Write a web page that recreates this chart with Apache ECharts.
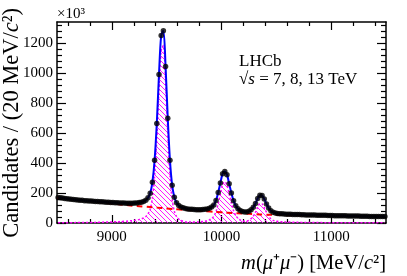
<!DOCTYPE html>
<html><head><meta charset="utf-8">
<script src="https://cdn.jsdelivr.net/npm/echarts@6/dist/echarts.min.js"></script>
<style>html,body{margin:0;padding:0;background:#fff}#c{width:407px;height:276px}</style>
</head><body><div id="c"></div>
<script>
// Histogram binning (MeV/c^2)
const binStart = 8500, binWidth = 20, nBins = 150;
// Candidates per bin (x10^3)
const candidates = [
 170,168,166,164,162,160,158,157,155,153,
 152,151,149,148,147,146,145,144,143,142,
 141,140,139,138,137,136,135,135,134,133,
 133,132,132,132,132,133,134,136,139,144,
 152,168,198,272,418,664,990,1250,1282,1044,
 698,418,252,172,135,117,107,101,97,94,
 92,91,90,89,89,89,90,91,94,98,
 106,120,150,204,267,329,344,322,262,200,
 148,115,95,83,77,74,74,78,88,105,
 130,163,185,183,160,127,100,82,72,67,
 64,62,61,60,59,58,58,57,57,56,
 56,55,55,54,54,53,53,53,52,52,
 52,51,51,50,50,50,49,49,49,48,
 48,48,47,47,47,46,46,46,45,45,
 45,45,44,44,44,44,43,43,43,43];
// Signal (Upsilon 1S,2S,3S) fit component per bin
const signalFit = [
 2,2,2,2,2,2,2,2,3,3,
 3,3,3,3,4,4,4,4,5,5,
 5,6,6,6,7,7,8,8,9,10,
 11,12,13,15,16,18,21,24,28,34,
 43,60,92,167,314,561,889,1150,1183,946,
 601,322,157,78,43,26,17,12,9,7,
 6,6,6,6,7,8,10,12,16,21,
 30,45,76,131,195,258,274,253,194,133,
 82,50,31,20,14,12,13,18,29,46,
 72,106,128,127,104,72,45,28,18,13,
 11,9,8,8,7,6,6,5,5,5,
 5,4,4,4,4,3,3,3,3,3,
 3,2,2,2,2,2,2,2,2,2,
 2,2,2,2,2,2,2,2,2,2,
 2,2,2,2,2,2,2,2,2,2];
// Background fit component, sampled every 100 MeV from 8500 to 11500
const bkgStep = 100;
const backgroundFit = [168,160,152,145,138,130,122,115,109,103,97,91,86,81,76,71,67,63,59,56,54,52,51,50,49,48,47,46,45,44,43];
// Tick labels
const xTickLabels = [9000, 10000, 11000];
const yTickLabels = [0, 200, 400, 600, 800, 1000, 1200];

const xMin = 8500, xMax = 11500, yMin = 0, yMax = 1340;
const FONT = 'Liberation Serif';

const binCenters = candidates.map((_, i) => binStart + binWidth * (i + 0.5));
const dataPts = candidates.map((v, i) => [binCenters[i], v]);
const sigPts = signalFit.map((v, i) => [binCenters[i], v]);
const bkgPts = backgroundFit.map((v, i) => [xMin + bkgStep * i, v]);

const xMinor = []; for (let v = 8600; v < xMax; v += 200) if (v % 1000 !== 0) xMinor.push(v);
const yMinor = []; for (let v = 40; v < yMax; v += 40) if (v % 200 !== 0) yMinor.push(v);

// hatch pattern
const T = 5;
const hc = document.createElement('canvas'); hc.width = T; hc.height = T;
const hx = hc.getContext('2d'); hx.strokeStyle = '#ff00ff'; hx.lineWidth = 0.9;
hx.beginPath(); hx.moveTo(-1, -1); hx.lineTo(T + 1, T + 1); hx.moveTo(-1, T - 1); hx.lineTo(1, T + 1); hx.moveTo(T - 1, -1); hx.lineTo(T + 1, 1); hx.stroke();

const lineBlack = {color: '#000', width: 1.5};
const fmt = v => String(v);
function xAx(pos, ticks, len, line, labels) {
  return {type: 'value', min: xMin, max: xMax, position: pos, gridIndex: 0,
    axisLine: {show: line, onZero: false, lineStyle: lineBlack},
    axisTick: {show: true, inside: true, length: len, customValues: ticks, lineStyle: {color: '#000', width: 1.2}},
    axisLabel: labels ? {show: true, customValues: ticks, formatter: fmt, margin: 7, fontSize: 15, fontFamily: FONT, color: '#000'} : {show: false},
    splitLine: {show: false}};
}
function yAx(pos, ticks, len, line, labels) {
  return {type: 'value', min: yMin, max: yMax, position: pos, gridIndex: 0,
    axisLine: {show: line, onZero: false, lineStyle: lineBlack},
    axisTick: {show: true, inside: true, length: len, customValues: ticks, lineStyle: {color: '#000', width: 1.2}},
    axisLabel: labels ? {show: true, customValues: ticks, formatter: fmt, margin: 4, fontSize: 15, fontFamily: FONT, color: '#000'} : {show: false},
    splitLine: {show: false}};
}

const chart = echarts.init(document.getElementById('c'), null, {renderer: 'canvas'});
chart.setOption({
  animation: false,
  backgroundColor: '#fff',
  grid: {left: 57, right: 21, top: 22, bottom: 53, containLabel: false},
  xAxis: [xAx('bottom', xTickLabels, 8, true, true), xAx('bottom', xMinor, 4, false, false),
          xAx('top', xTickLabels, 8, true, false), xAx('top', xMinor, 4, false, false)],
  yAxis: [yAx('left', yTickLabels, 9, true, true), yAx('left', yMinor, 5, false, false),
          yAx('right', yTickLabels, 9, true, false), yAx('right', yMinor, 5, false, false)],
  series: [
    {type: 'line', data: sigPts, xAxisIndex: 0, yAxisIndex: 0, showSymbol: false, smooth: 0.3, z: 1,
     lineStyle: {color: '#ff00ff', width: 1.5, type: [2, 2]},
     areaStyle: {color: {image: hc, repeat: 'repeat'}, opacity: 1}},
    {type: 'line', data: bkgPts, xAxisIndex: 0, yAxisIndex: 0, showSymbol: false, smooth: 0.4, z: 2,
     lineStyle: {color: '#ff0000', width: 2, type: [6, 4]}},
    {type: 'line', data: dataPts, xAxisIndex: 0, yAxisIndex: 0, showSymbol: false, smooth: 0.3, z: 3,
     lineStyle: {color: '#0000ff', width: 2}},
    {type: 'scatter', data: dataPts, xAxisIndex: 0, yAxisIndex: 0, symbol: 'circle', symbolSize: 5.5, z: 4,
     itemStyle: {color: '#000'}}
  ],
  graphic: [
    {type: 'text', x: 57, y: 14, style: {text: '×10³', fontFamily: FONT, fontSize: 15, fill: '#000', align: 'left', verticalAlign: 'middle'}},
    {type: 'text', x: 12, y: 8, rotation: Math.PI / 2,
     style: {text: '{n|Candidates / (20 MeV/}{i|c}{n|²)}', align: 'right', verticalAlign: 'middle', fill: '#000',
       rich: {n: {fontFamily: FONT, fontSize: 22.5, fill: '#000'}, i: {fontFamily: FONT, fontSize: 22.5, fontStyle: 'italic', fill: '#000'}}}},
    {type: 'text', x: 386, y: 264,
     style: {text: '{i|m}{n|(}{i|μ}{n|⁺}{i|μ}{n|⁻}{n|) [MeV/}{i|c}{n|²]}', align: 'right', verticalAlign: 'middle', fill: '#000',
       rich: {n: {fontFamily: FONT, fontSize: 20.5, fill: '#000'}, i: {fontFamily: FONT, fontSize: 20.5, fontStyle: 'italic', fill: '#000'}}}},
    {type: 'text', x: 239, y: 62, style: {text: 'LHCb', fontFamily: FONT, fontSize: 17, fill: '#000', align: 'left', verticalAlign: 'middle'}},
    {type: 'text', x: 239, y: 80,
     style: {text: '{n|√}{i|s}{n| = 7, 8, 13 TeV}', align: 'left', verticalAlign: 'middle', fill: '#000',
       rich: {n: {fontFamily: FONT, fontSize: 17, fill: '#000'}, i: {fontFamily: FONT, fontSize: 17, fontStyle: 'italic', fill: '#000'}}}}
  ]
});
</script></body></html>
